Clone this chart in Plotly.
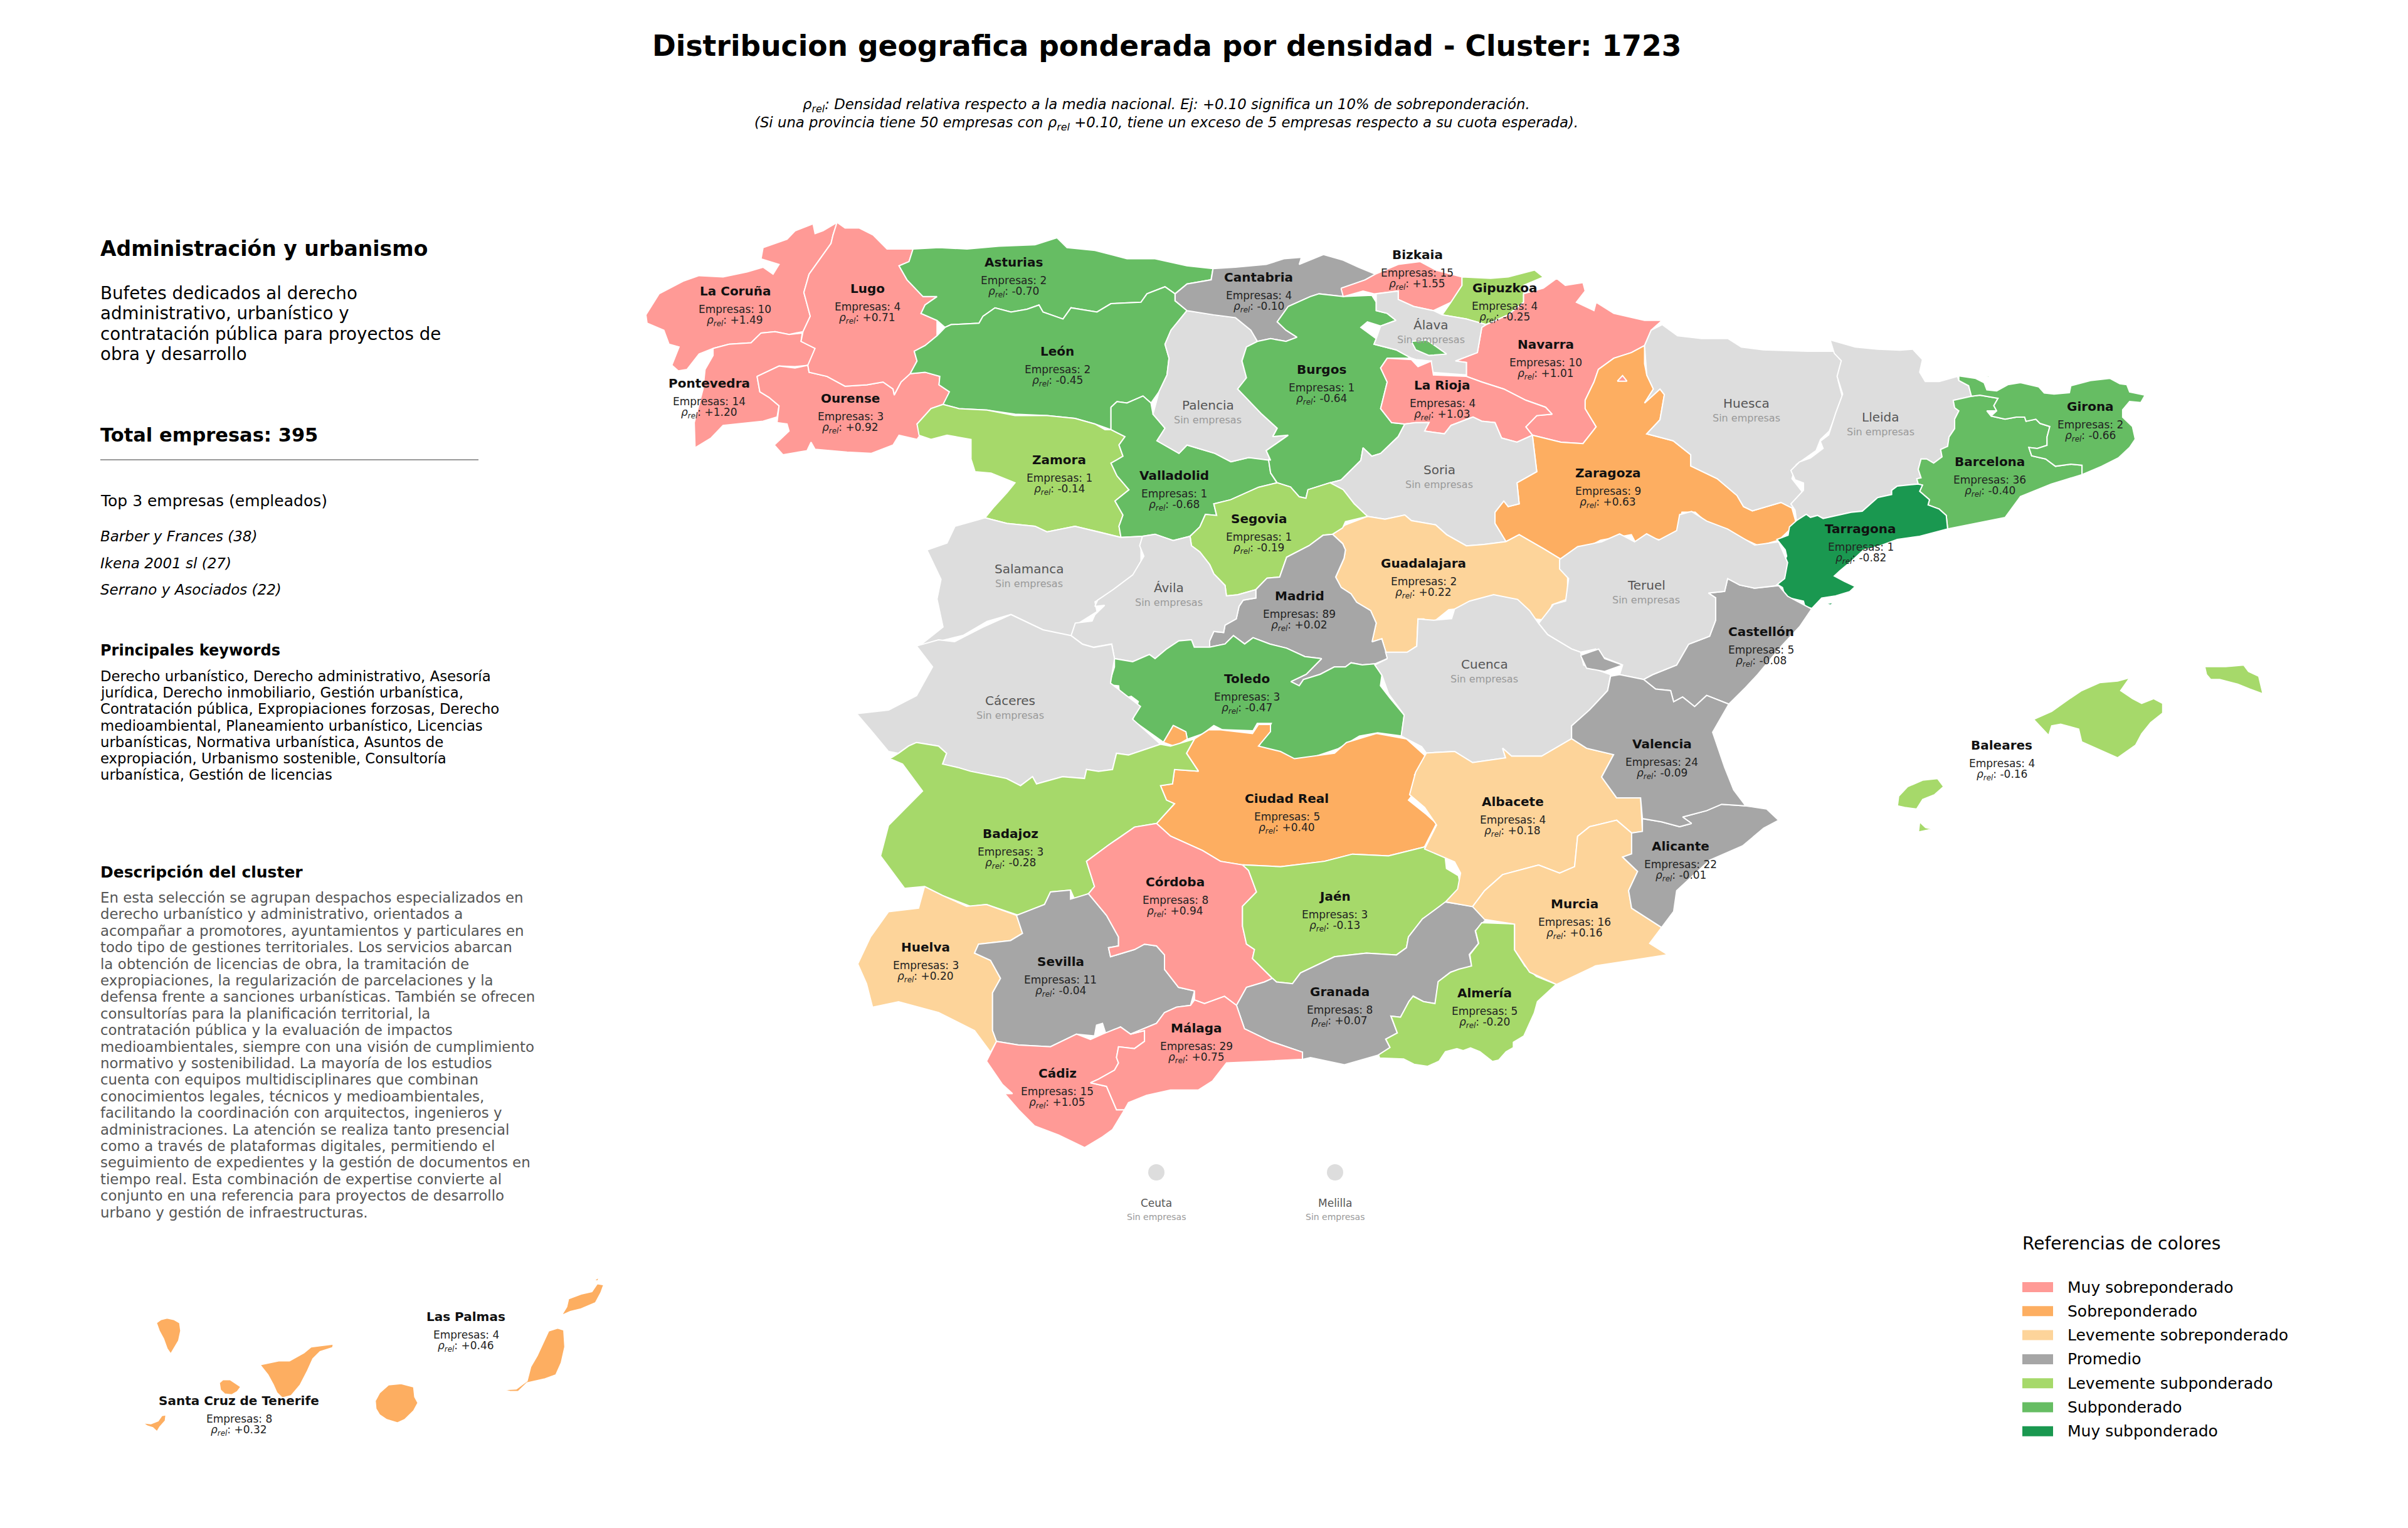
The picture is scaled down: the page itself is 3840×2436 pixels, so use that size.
import plotly.graph_objects as go

# province data
PROVINCES = ["La Coruña", "Lugo", "Pontevedra", "Ourense", "Asturias", "León", "Zamora", "Valladolid",
             "Cantabria", "Bizkaia", "Gipuzkoa", "Navarra", "Burgos", "La Rioja", "Zaragoza", "Segovia",
             "Guadalajara", "Madrid", "Girona", "Barcelona", "Tarragona", "Castellón", "Valencia", "Albacete",
             "Alicante", "Murcia", "Almería", "Baleares", "Toledo", "Ciudad Real", "Badajoz", "Córdoba",
             "Jaén", "Huelva", "Sevilla", "Granada", "Málaga", "Cádiz", "Las Palmas", "Santa Cruz de Tenerife"]
EMPRESAS = [10, 4, 14, 3, 2, 2, 1, 1, 4, 15, 4, 10, 1, 4, 9, 1, 2, 89, 2, 36, 1, 5, 24, 4, 22, 16, 5, 4,
            3, 5, 3, 8, 3, 3, 11, 8, 29, 15, 4, 8]
RHO = [1.49, 0.71, 1.20, 0.92, -0.70, -0.45, -0.14, -0.68, -0.10, 1.55, -0.25, 1.01, -0.64, 1.03, 0.63,
       -0.19, 0.22, 0.02, -0.66, -0.40, -0.82, -0.08, -0.09, 0.18, -0.01, 0.16, -0.20, -0.16, -0.47, 0.40,
       -0.28, 0.94, -0.13, 0.20, -0.04, 0.07, 0.75, 1.05, 0.46, 0.32]
LABEL_X = [1172, 1383, 1131, 1356, 1616, 1686, 1689, 1872, 2007, 2260, 2399, 2465, 2107, 2300, 2564, 2007,
           2270, 2072, 3333, 3173, 2967, 2808, 2650, 2412, 2680, 2511, 2367, 3192, 1988, 2052, 1611, 1874,
           2128, 1476, 1691, 2136, 1908, 1686, 743, 381]
LABEL_Y = [464, 460, 611, 635, 418, 560, 733, 758, 442, 406, 459, 549, 589, 614, 754, 827, 898, 950, 648,
           736, 843, 1007, 1186, 1278, 1349, 1441, 1583, 1188, 1082, 1273, 1329, 1406, 1429, 1510, 1533,
           1581, 1639, 1711, 2099, 2233]

NO_DATA = ["Palencia", "Salamanca", "Ávila", "Álava", "Soria", "Huesca", "Lleida", "Teruel", "Cuenca",
           "Cáceres", "Ceuta", "Melilla"]
NO_DATA_X = [1926, 1641, 1864, 2282, 2295, 2785, 2999, 2625, 2367, 1611, 1844, 2129]
NO_DATA_Y = [646, 907, 937, 518, 749, 643, 665, 933, 1059, 1117, 1918, 1918]

CITY_X = [1844, 2129]
CITY_Y = [1869, 1869]

LEGEND_LABELS = ["Muy sobreponderado", "Sobreponderado", "Levemente sobreponderado", "Promedio",
                 "Levemente subponderado", "Subponderado", "Muy subponderado"]
LEGEND_COLORS = ["#FF9A96", "#FDAE61", "#FDD49A", "#A6A6A6", "#A6D96A", "#66BD63", "#1A9850"]
NO_DATA_COLOR = "#DDDDDD"

KEYWORDS = ["Derecho urbanístico, Derecho administrativo, Asesoría",
            "jurídica, Derecho inmobiliario, Gestión urbanística,",
            "Contratación pública, Expropiaciones forzosas, Derecho",
            "medioambiental, Planeamiento urbanístico, Licencias",
            "urbanísticas, Normativa urbanística, Asuntos de",
            "expropiación, Urbanismo sostenible, Consultoría",
            "urbanística, Gestión de licencias"]
DESCRIPTION = ["En esta selección se agrupan despachos especializados en",
               "derecho urbanístico y administrativo, orientados a",
               "acompañar a promotores, ayuntamientos y particulares en",
               "todo tipo de gestiones territoriales. Los servicios abarcan",
               "la obtención de licencias de obra, la tramitación de",
               "expropiaciones, la regularización de parcelaciones y la",
               "defensa frente a sanciones urbanísticas. También se ofrecen",
               "consultorías para la planificación territorial, la",
               "contratación pública y la evaluación de impactos",
               "medioambientales, siempre con una visión de cumplimiento",
               "normativo y sostenibilidad. La mayoría de los estudios",
               "cuenta con equipos multidisciplinares que combinan",
               "conocimientos legales, técnicos y medioambientales,",
               "facilitando la coordinación con arquitectos, ingenieros y",
               "administraciones. La atención se realiza tanto presencial",
               "como a través de plataformas digitales, permitiendo el",
               "seguimiento de expedientes y la gestión de documentos en",
               "tiempo real. Esta combinación de expertise convierte al",
               "conjunto en una referencia para proyectos de desarrollo",
               "urbano y gestión de infraestructuras."]
SUMMARY = ["Bufetes dedicados al derecho", "administrativo, urbanístico y",
           "contratación pública para proyectos de", "obra y desarrollo"]
TOP_FIRMS = ["Barber y Frances (38)", "Ikena 2001 sl (27)", "Serrano y Asociados (22)"]

# outlines were digitised on separate sheets: origin x, origin y, x scale, y scale
SHEETS = {"nw": (1000, 330, 1.568, 2.24), "ne": (1900, 330, 1.4255, 2.24), "cat": (2780, 540, 2.24, 3.0),
          "mid": (1650, 800, 2.24, 3.0), "s": (1350, 1000, 1.568, 1.742), "e": (2200, 800, 1.045, 1.96),
          "can": (100, 1350, 1.742, 1.568), "alm": (2180, 1540, 3.0, 3.0)}

OUTLINES = {
    "La Coruña": [("nw", [(47,385),(80,310),(140,265),(180,245),(240,250),(300,232),(340,215),(365,240),(380,205),(335,185),(340,145),(400,115),(420,85),(465,60),(470,95),(490,85),(525,55),(515,100),(510,130),(480,190),(455,240),(442,305),(458,390),(440,445),(405,455),(370,445),(335,450),(310,485),(255,490),(215,505),(180,525),(150,580),(128,585),(112,565),(130,500),(105,490),(92,440),(50,415)])],
    "Pontevedra": [("nw", [(215,505),(255,490),(310,485),(335,450),(370,445),(405,455),(438,450),(435,480),(470,505),(455,565),(420,570),(380,568),(325,605),(332,660),(355,680),(380,710),(375,750),(340,765),(240,780),(210,825),(170,860),(168,770),(190,650),(195,580),(215,530)])],
    "Ourense": [("nw", [(325,605),(380,568),(420,575),(452,565),(455,590),(500,605),(545,640),(600,635),(640,625),(665,650),(668,672),(685,625),(708,595),(745,590),(782,605),(780,635),(806,660),(800,700),(760,720),(725,775),(740,800),(725,830),(680,815),(665,850),(610,880),(550,875),(470,865),(460,840),(450,870),(390,885),(368,850),(405,800),(400,775),(375,770),(380,710),(355,680),(332,660)])],
    "Lugo": [("nw", [(525,55),(545,75),(580,75),(615,100),(650,150),(715,150),(705,195),(680,210),(700,260),(740,320),(775,320),(745,350),(735,380),(775,405),(775,460),(745,495),(718,515),(725,550),(708,595),(685,625),(668,670),(665,650),(640,625),(600,635),(545,640),(500,605),(455,590),(452,565),(470,505),(435,480),(440,445),(458,390),(442,305),(455,240),(480,190),(510,130),(515,100)])],
    "Asturias": [("nw", [(715,150),(780,145),(850,150),(930,140),(1020,135),(1075,110),(1100,145),(1170,155),(1250,185),(1320,185),(1400,210),(1465,220),(1460,260),(1400,275),(1370,310),(1345,285),(1300,310),(1285,340),(1210,345),(1175,375),(1110,360),(1090,400),(1040,375),(1030,350),(1000,365),(960,375),(920,360),(890,390),(880,415),(810,420),(795,430),(775,405),(735,380),(745,350),(775,320),(740,320),(700,260),(680,210),(705,195)])],
    "León": [("nw", [(795,430),(810,420),(880,415),(890,390),(920,360),(960,375),(1000,365),(1030,350),(1040,375),(1090,400),(1110,360),(1175,375),(1210,345),(1285,340),(1300,310),(1345,285),(1370,310),(1370,335),(1400,370),(1360,440),(1345,490),(1355,540),(1350,600),(1330,660),(1310,700),(1290,675),(1250,700),(1225,695),(1210,715),(1210,795),(1170,775),(1120,755),(1050,745),(970,740),(900,725),(830,720),(790,705),(806,660),(780,635),(782,605),(745,590),(708,595),(725,550),(718,515),(745,495),(775,460)])],
    "Zamora": [("nw", [(790,705),(830,720),(900,725),(970,745),(1050,745),(1120,755),(1170,775),(1195,795),(1210,795),(1245,820),(1230,850),(1240,890),(1210,915),(1225,960),(1255,1010),(1220,1050),(1240,1100),(1230,1140),(1235,1180),(1180,1160),(1120,1140),(1050,1160),(1020,1140),(950,1130),(895,1110),(915,1075),(950,1020),(970,985),(910,950),(870,945),(860,900),(860,830),(800,815),(760,830),(730,815),(725,775),(760,720)])],
    "Valladolid": [("nw", [(1210,715),(1225,695),(1250,700),(1290,675),(1310,700),(1315,740),(1345,790),(1325,835),(1380,880),(1400,850),(1470,880),(1510,910),(1554,895),(1604,900),(1609,950),(1625,985),(1579,1001),(1509,1046),(1467,1060),(1474,1102),(1446,1098),(1432,1143),(1407,1176),(1365,1191),(1320,1169),(1288,1176),(1235,1180),(1230,1140),(1240,1100),(1220,1050),(1255,1010),(1225,960),(1210,915),(1240,890),(1230,850),(1245,820),(1210,795)])],
    "Palencia": [("nw", [(1400,370),(1466,385),(1521,395),(1560,440),(1576,480),(1549,500),(1537,550),(1549,610),(1527,650),(1587,740),(1626,790),(1614,820),(1653,815),(1598,870),(1609,905),(1554,895),(1510,910),(1470,880),(1400,850),(1380,880),(1325,835),(1345,790),(1315,740),(1330,660),(1350,600),(1355,540),(1345,490),(1360,440)])],
    "Salamanca": [("nw", [(895,1110),(950,1130),(1020,1140),(1050,1160),(1120,1140),(1180,1160),(1235,1180),(1288,1176),(1285,1220),(1285,1290),(1240,1350),(1170,1410),(1175,1445),(1125,1490),(1110,1540),(1040,1510),(960,1455),(900,1480),(840,1530),(730,1568),(790,1500),(775,1400),(785,1330),(750,1225),(800,1200),(820,1140)])],
    "Cantabria": [("ne", [(49,220),(100,215),(170,205),(210,185),(250,180),(245,205),(300,170),(345,190),(380,215),(418,240),(395,260),(345,290),(345,320),(290,310),(270,320),(220,355),(195,410),(215,440),(240,465),(215,480),(180,470),(150,480),(135,440),(100,395),(50,385),(-10,370),(-37,335),(-37,310),(-10,275),(45,260)])],
    "Burgos": [("ne", [(290,310),(345,320),(410,315),(420,340),(420,370),(445,380),(465,405),(430,425),(400,410),(385,430),(420,470),(415,490),(465,510),(500,540),(445,540),(430,575),(445,625),(430,720),(455,770),(485,775),(470,820),(430,880),(410,890),(390,860),(385,905),(340,975),(315,985),(265,1010),(260,1040),(245,1035),(225,1000),(195,985),(180,950),(175,900),(180,905),(170,870),(220,815),(185,820),(195,790),(160,740),(105,650),(125,610),(115,550),(125,500),(150,480),(180,470),(215,480),(240,465),(215,440),(195,410),(220,355),(270,320)])],
    "Bizkaia": [("ne", [(340,290),(395,260),(418,240),(470,205),(520,195),(555,225),(615,250),(615,280),(590,340),(550,370),(505,355),(470,330),(470,300),(415,310),(390,300),(345,320)])],
    "Gipuzkoa": [("ne", [(615,250),(680,255),(720,250),(780,225),(800,250),(755,280),(755,340),(720,385),(670,420),(625,400),(570,385),(590,340),(615,280)])],
    "Navarra": [("ne", [(755,310),(800,290),(830,255),(850,280),(890,270),(895,300),(875,340),(915,370),(920,340),(960,380),(1030,405),(1070,405),(1045,440),(1030,495),(1000,520),(960,540),(925,580),(915,625),(895,690),(895,720),(920,785),(890,845),(840,840),(775,815),(760,785),(785,745),(820,740),(805,715),(760,690),(710,650),(660,625),(625,605),(625,555),(600,550),(650,520),(660,430),(670,420),(720,385),(755,340)])],
    "Álava": [("ne", [(420,310),(470,300),(470,330),(505,355),(550,370),(570,385),(625,400),(670,420),(660,430),(650,520),(600,550),(625,555),(625,600),(545,590),(545,550),(510,545),(500,540),(465,510),(415,490),(420,470),(430,425),(465,405),(445,380),(420,370)])],
    "La Rioja": [("ne", [(445,540),(500,545),(515,570),(545,550),(550,600),(625,605),(660,625),(710,650),(760,690),(805,715),(820,740),(785,745),(760,785),(775,815),(740,840),(705,825),(690,770),(660,765),(640,750),(590,780),(575,810),(530,800),(540,770),(510,770),(485,775),(455,770),(430,720),(445,625),(430,575)])],
    "Zaragoza": [("ne", [(1030,495),(1030,560),(1035,600),(1050,650),(1030,700),(1065,650),(1075,670),(1065,760),(1035,810),(1095,835),(1135,885),(1135,925),(1195,970),(1240,1030),(1255,1070),(1275,1085),(1340,1055),(1365,1075),(1375,1130),(1335,1190),(1290,1210),(1240,1175),(1170,1125),(1145,1090),(1115,1090),(1105,1160),(1070,1190),(1040,1180),(1010,1200),(1000,1170),(930,1190),(880,1230),(840,1258),(800,1220),(745,1170),(715,1195),(690,1130),(690,1090),(710,1050),(720,1070),(745,1060),(740,985),(785,945),(775,815),(840,840),(890,845),(920,785),(895,720),(895,690),(915,625),(925,580),(960,540),(1000,520)])],
    "Huesca": [("ne", [(1070,420),(1105,460),(1160,470),(1220,470),(1250,500),(1300,510),(1400,515),(1460,515),(1480,550),(1470,620),(1480,680),(1450,800),(1430,830),(1420,870),(1375,920),(1365,970),(1395,1030),(1365,1075),(1340,1055),(1275,1085),(1255,1070),(1240,1030),(1195,970),(1135,925),(1135,885),(1095,835),(1035,810),(1065,760),(1075,670),(1065,650),(1030,700),(1050,650),(1035,600),(1030,495),(1045,440)])],
    "Soria": [("ne", [(340,975),(385,905),(390,860),(410,890),(430,880),(470,820),(485,775),(510,770),(540,770),(530,800),(575,810),(590,780),(640,750),(660,765),(690,770),(705,825),(740,840),(775,815),(785,945),(740,985),(745,1060),(720,1070),(710,1050),(690,1090),(690,1130),(715,1195),(665,1205),(625,1210),(580,1170),(555,1135),(500,1120),(485,1100),(440,1115),(400,1105),(370,1060),(345,1010),(315,985)])],
    "Guadalajara": [("ne", [(321,1169),(350,1135),(400,1105),(440,1115),(485,1100),(500,1120),(555,1135),(580,1170),(625,1210),(665,1205),(715,1195),(745,1170),(800,1220),(840,1258),(855,1320),(855,1400),(820,1420),(805,1475),(770,1470),(720,1440),(690,1410),(641,1411),(611,1434),(585,1438),(547,1486),(528,1471),(515,1471),(512,1568),(490,1591),(442,1591),(433,1542),(410,1553),(420,1486),(407,1441),(375,1412),(363,1382),(340,1359),(328,1322),(347,1255),(350,1225),(344,1202)])],
    "Lleida": [("cat", [(310,5),(400,40),(480,50),(560,55),(605,50),(640,100),(630,160),(650,205),(700,205),(765,180),(770,200),(805,225),(815,275),(750,295),(755,330),(770,345),(755,385),(755,430),(735,470),(730,515),(705,530),(710,565),(680,595),(655,575),(635,575),(625,625),(635,665),(620,670),(625,695),(550,705),(530,725),(530,745),(480,760),(450,795),(425,825),(385,830),(285,860),(265,845),(240,855),(225,840),(190,870),(185,820),(170,790),(215,725),(215,690),(185,675),(170,630),(200,590),(240,570),(285,525),(275,490),(305,460),(330,355),(355,265),(335,180),(350,105),(325,70)])],
    "Barcelona": [("cat", [(750,295),(815,275),(845,270),(910,285),(895,320),(905,345),(870,345),(885,370),(935,385),(975,375),(1005,375),(1010,395),(1045,385),(1060,405),(1095,420),(1085,470),(1085,510),(1050,525),(1020,520),(1030,560),(1080,575),(1115,610),(1170,600),(1210,605),(1210,650),(1100,695),(990,755),(935,855),(730,910),(725,845),(700,815),(660,795),(665,770),(630,730),(640,700),(625,695),(620,670),(635,665),(625,625),(635,575),(655,575),(680,595),(710,565),(705,530),(730,515),(735,470),(755,430),(755,385),(770,345),(755,330)])],
    "Girona": [("cat", [(770,178),(830,190),(860,210),(870,245),(905,250),(945,220),(990,210),(1055,230),(1075,260),(1110,265),(1165,258),(1170,225),(1240,200),(1310,190),(1345,215),(1370,220),(1380,255),(1435,270),(1420,305),(1380,300),(1355,340),(1355,375),(1390,420),(1400,480),(1380,520),(1340,570),(1280,610),(1210,650),(1210,605),(1170,600),(1115,610),(1080,575),(1030,560),(1020,520),(1050,525),(1085,510),(1085,470),(1095,420),(1060,405),(1045,385),(1010,395),(1005,375),(975,375),(935,385),(885,370),(905,345),(895,320),(910,285),(845,270),(815,275),(805,225),(770,200)]),
               ("cat", [(870,178),(878,178),(876,192)])],
    "Tarragona": [("cat", [(190,870),(225,840),(240,855),(265,845),(285,860),(385,830),(425,825),(450,795),(480,760),(530,745),(530,725),(550,705),(625,695),(640,700),(630,730),(665,770),(660,795),(700,815),(725,845),(730,910),(630,945),(550,960),(490,990),(430,1010),(390,1060),(345,1110),(325,1135),(360,1160),(400,1185),(380,1210),(330,1230),(280,1240),(245,1290),(220,1280),(215,1255),(150,1235),(140,1190),(110,1165),(135,1160),(150,1130),(135,1095),(155,1040),(150,1010),(120,960),(160,940),(165,900)]),
                  ("cat", [(292,1268),(325,1260),(312,1274)])],
    "Segovia": [("mid", [(866,-91),(914,-71),(945,-24),(969,-17),(976,-58),(1055,-91),(1102,-58),(1141,9),(1189,70),(1110,95),(1100,125),(1064,155),(1030,160),(980,210),(900,265),(875,360),(830,365),(790,420),(725,445),(685,450),(680,400),(640,345),(625,300),(590,240),(560,210),(555,165),(590,120),(610,60),(650,65),(640,10),(700,-10),(800,-70)])],
    "Madrid": [("mid", [(1064,155),(1100,200),(1110,230),(1105,270),(1075,360),(1095,410),(1130,440),(1150,480),(1200,520),(1220,580),(1205,670),(1240,655),(1255,720),(1260,750),(1215,775),(1170,780),(1130,770),(1110,790),(1070,790),(1020,825),(960,850),(945,880),(915,860),(970,825),(1025,750),(965,740),(900,700),(840,680),(800,660),(780,650),(750,680),(710,640),(680,680),(625,695),(625,665),(640,620),(675,625),(680,590),(720,560),(730,500),(745,470),(790,460),(790,420),(830,365),(875,360),(900,265),(980,210),(1030,160)])],
    "Ávila": [("mid", [(385,165),(430,155),(495,185),(555,165),(560,210),(590,240),(625,300),(640,345),(680,400),(685,450),(725,445),(790,420),(790,460),(745,470),(730,500),(720,560),(680,590),(675,625),(640,620),(625,665),(625,695),(570,695),(560,660),(515,665),(470,705),(430,750),(410,730),(350,765),(285,750),(275,680),(210,695),(170,680),(130,640),(145,580),(205,570),(215,540),(250,495),(215,500),(225,470),(280,420),(350,350),(390,260),(375,210)])],
    "Toledo": [("mid", [(285,750),(350,765),(410,730),(430,750),(470,705),(515,665),(560,660),(570,695),(625,695),(680,680),(710,640),(750,680),(780,650),(800,660),(840,680),(900,700),(965,740),(1025,750),(970,825),(915,860),(945,880),(960,850),(1020,825),(1070,790),(1110,790),(1130,770),(1170,780),(1215,775),(1240,830),(1235,880),(1270,940),(1320,1020),(1310,1120),(1225,1105),(1160,1120),(1085,1180),(985,1225),(925,1235),(880,1210),(800,1170),(835,1090),(845,1060),(795,1060),(780,1095),(670,1090),(640,1070),(600,1110),(545,1135),(540,1100),(495,1070),(460,1150),(350,1045),(370,955),(345,930),(305,945),(300,880),(265,875),(285,790)])],
    "Cáceres": [("s", [(175,52),(230,35),(270,40),(340,0),(411,-35),(491,7),(561,23),(590,47),(618,56),(663,47),(670,87),(660,155),(700,190),(735,220),(715,255),(785,325),(705,355),(675,350),(665,395),(630,400),(600,395),(595,420),(540,415),(475,435),(465,415),(435,440),(400,420),(310,400),(280,390),(240,380),(250,350),(230,330),(175,320),(155,330),(130,350),(105,345),(60,285),(25,240),(105,230),(175,190),(205,130),(215,110)])],
    "Ciudad Real": [("s", [(870,310),(905,285),(935,285),(1015,295),(1030,270),(1060,270),(1060,290),(1030,330),(1085,345),(1120,365),(1220,350),(1250,320),(1325,295),(1400,310),(1445,355),(1450,370),(1420,410),(1430,445),(1405,480),(1450,520),(1475,545),(1445,610),(1355,635),(1265,630),(1195,650),(1085,665),(990,660),(935,650),(890,620),(810,580),(775,545),(820,490),(800,480),(785,440),(815,435),(820,395),(880,400),(850,350)]),
                    ("mid", [(495,1070),(540,1100),(545,1135),(500,1170),(460,1150)])],
    "Badajoz": [("s", [(108,365),(130,350),(155,330),(175,320),(230,330),(250,350),(240,380),(280,390),(310,400),(400,420),(435,440),(465,415),(475,435),(540,415),(595,420),(600,395),(630,400),(665,395),(675,350),(705,355),(785,325),(810,330),(870,310),(850,350),(880,400),(820,395),(815,435),(785,440),(800,480),(820,490),(775,545),(720,555),(655,605),(600,650),(620,720),(605,740),(570,755),(560,730),(510,735),(495,770),(430,800),(350,770),(310,775),(240,745),(195,720),(145,725),(85,635),(105,550),(190,455),(140,380)])],
    "Huelva": [("s", [(195,720),(240,745),(300,775),(350,770),(425,800),(440,850),(410,870),(330,880),(320,905),(360,925),(385,975),(365,1015),(365,1120),(375,1150),(360,1180),(320,1120),(230,1070),(130,1040),(65,1055),(50,990),(28,935),(60,860),(105,790),(180,780)])],
    "Sevilla": [("s", [(425,800),(495,770),(510,735),(560,730),(560,755),(605,740),(650,800),(680,860),(680,885),(655,890),(660,915),(720,895),(745,880),(775,885),(795,910),(795,950),(830,1000),(870,1010),(860,1050),(825,1055),(795,1070),(775,1100),(710,1130),(685,1110),(650,1135),(640,1100),(625,1105),(620,1135),(575,1130),(510,1165),(430,1160),(375,1150),(365,1120),(365,1015),(385,975),(360,925),(320,905),(330,880),(410,870),(440,850)])],
    "Córdoba": [("s", [(775,545),(810,580),(890,620),(935,650),(990,660),(1005,675),(1025,735),(990,775),(990,830),(1000,880),(1020,895),(1015,920),(1065,975),(1045,985),(1000,1000),(975,1050),(945,1025),(895,1045),(870,1035),(870,1010),(830,1000),(795,950),(795,910),(775,885),(745,880),(720,895),(660,915),(655,890),(680,885),(680,860),(650,800),(605,740),(620,720),(600,650),(655,605),(720,555)])],
    "Jaén": [("s", [(990,660),(1085,665),(1195,650),(1265,630),(1355,635),(1445,610),(1495,620),(1500,670),(1530,690),(1535,720),(1505,765),(1440,810),(1405,860),(1400,890),(1375,910),(1300,905),(1220,915),(1135,960),(1115,990),(1075,985),(1065,975),(1015,920),(1020,895),(1000,880),(990,830),(990,775),(1025,735),(1005,675)])],
    "Granada": [("s", [(1065,975),(1075,985),(1115,990),(1135,960),(1220,915),(1300,905),(1375,910),(1400,890),(1405,860),(1440,810),(1497,763),(1572,776),(1599,811),(1572,843),(1580,878),(1557,909),(1563,941),(1510,958),(1480,984),(1472,1045),(1443,1040),(1417,1024),(1407,1040),(1385,1083),(1361,1080),(1377,1127),(1348,1144),(1359,1167),(1330,1188),(1245,1215),(1160,1195),(1140,1200),(1140,1180),(1060,1150),(995,1115),(975,1050),(1000,1000),(1045,985)])],
    "Almería": [("alm", [(492,-54),(534,-108),(519,-168),(549,-207),(705,-201),(705,-78),(755,0),(810,50),(905,88),(815,170),(800,225),(750,335),(700,365),(700,390),(665,410),(630,450),(600,457),(540,410),(495,392),(460,405),(430,395),(375,410),(345,455),(290,480),(225,470),(175,445),(60,440),(55,425),(110,390),(90,350),(145,320),(115,240),(160,245),(200,170),(220,145),(270,170),(325,180),(340,75),(400,30),(440,15),(500,0)])],
    "Cádiz": [("s", [(375,1150),(430,1160),(510,1165),(575,1130),(610,1145),(640,1130),(685,1110),(710,1130),(745,1120),(745,1150),(720,1170),(680,1165),(675,1195),(680,1210),(670,1230),(630,1255),(610,1265),(650,1275),(675,1340),(695,1340),(665,1395),(640,1415),(595,1445),(530,1410),(470,1385),(430,1340),(395,1295),(415,1295),(390,1270),(350,1205)])],
    "Málaga": [("s", [(870,1035),(895,1045),(945,1025),(975,1050),(995,1115),(1060,1150),(1140,1180),(1140,1200),(1050,1205),(950,1210),(915,1260),(880,1285),(810,1285),(750,1300),(705,1320),(695,1340),(675,1340),(650,1275),(610,1265),(630,1255),(670,1230),(680,1210),(675,1195),(680,1165),(720,1170),(745,1150),(745,1120),(710,1130),(775,1100),(795,1070),(825,1055),(860,1050)])],
    "Castellón": [("e", [(580,240),(600,260),(625,270),(665,262),(680,295),(720,335),(700,390),(670,450),(630,540),(610,580),(582,632),(545,605),(525,640),(505,610),(490,625),(485,590),(460,585),(440,555),(455,540),(495,510),(515,445),(550,420),(560,370),(560,300),(548,285),(575,280)])],
    "Teruel": [("e", [(300,180),(330,140),(370,125),(400,100),(425,125),(445,100),(465,120),(495,90),(500,40),(520,30),(545,60),(580,85),(625,135),(665,125),(680,190),(675,240),(660,262),(625,270),(600,260),(580,240),(575,280),(548,285),(560,300),(560,370),(550,420),(515,445),(495,510),(455,540),(440,555),(400,540),(405,510),(365,480),(360,460),(335,470),(320,460),(280,415),(265,380),(290,320),(310,310),(315,240),(300,210)])],
    "Cuenca": [("e", [(13,490),(10,470),(46,470),(62,451),(64,366),(90,370),(120,365),(125,335),(150,310),(190,290),(230,305),(250,340),(265,380),(280,415),(320,460),(335,470),(340,510),(385,540),(380,590),(350,650),(320,700),(320,740),(270,795),(220,795),(205,770),(210,800),(155,815),(125,780),(78,785),(70,765),(36,732),(41,666),(15,600),(4,542),(-8,510)])],
    "Albacete": [("e", [(78,785),(125,780),(155,815),(210,800),(205,770),(220,795),(270,795),(320,740),(345,770),(390,790),(370,860),(395,925),(435,925),(438,1030),(420,1035),(395,995),(350,1015),(330,1045),(325,1140),(300,1160),(265,1135),(205,1165),(175,1215),(155,1265),(110,1250),(130,1210),(135,1160),(125,1125),(75,1085),(95,1010),(75,955),(50,915),(60,845)])],
    "Murcia": [("e", [(155,1265),(175,1215),(205,1165),(265,1135),(300,1160),(325,1140),(330,1045),(350,1015),(395,995),(420,1035),(420,1100),(405,1110),(430,1155),(415,1215),(420,1270),(470,1330),(450,1380),(480,1415),(430,1430),(360,1450),(295,1508),(250,1470),(225,1400),(225,1320),(175,1305)])],
    "Alicante": [("e", [(438,990),(470,1000),(500,1015),(520,1005),(505,985),(545,965),(570,945),(610,950),(645,960),(665,995),(640,1020),(605,1075),(550,1120),(495,1215),(490,1280),(470,1330),(420,1270),(415,1215),(430,1155),(405,1110),(420,1100),(420,1035),(438,1030)])],
    "Valencia": [("e", [(385,545),(400,540),(440,555),(460,585),(485,590),(490,625),(505,610),(525,640),(545,605),(582,632),(555,720),(575,830),(590,900),(610,950),(570,945),(545,965),(505,985),(520,1005),(500,1015),(470,1000),(438,990),(435,925),(395,925),(370,860),(390,790),(345,770),(320,740),(320,700),(350,650),(380,590)]),
                 ("e", [(335,480),(365,460),(375,490),(405,510),(375,530),(345,520)])],
    "Baleares": [("e", [(1090,680),(1120,655),(1150,615),(1170,590),(1200,565),(1230,560),(1250,550),(1235,590),(1255,615),(1270,630),(1290,615),(1305,630),(1305,660),(1285,690),(1270,725),(1260,760),(1230,800),(1195,770),(1170,750),(1165,710),(1135,695),(1120,700),(1115,730),(1100,700)]),
                 ("e", [(1375,515),(1410,515),(1440,510),(1448,530),(1465,545),(1472,600),(1450,585),(1430,570),(1400,555),(1385,555),(1378,540)]),
                 ("e", [(880,890),(905,870),(930,865),(940,890),(925,915),(905,930),(895,960),(875,955),(863,950),(865,920)]),
                 ("e", [(900,1000),(910,1018),(932,1027),(915,1025),(898,1032)])],
    "Santa Cruz de Tenerife": [("can", [(260,1190),(272,1182),(290,1178),(310,1182),(325,1190),(328,1210),(322,1235),(312,1250),(300,1268),(290,1255),(280,1230),(268,1210)]),
                               ("can", [(548,1295),(575,1290),(600,1285),(630,1285),(650,1275),(670,1265),(690,1250),(720,1247),(752,1243),(750,1252),(715,1262),(695,1280),(680,1310),(660,1345),(635,1372),(610,1378),(595,1365),(585,1345),(570,1320)]),
                               ("can", [(435,1340),(445,1332),(465,1332),(495,1350),(485,1362),(470,1370),(450,1368),(438,1358)]),
                               ("can", [(222,1440),(245,1442),(265,1435),(275,1422),(287,1420),(285,1435),(270,1450),(262,1462),(250,1452),(235,1448)])],
    "Las Palmas": [("can", [(868,1385),(880,1365),(905,1345),(940,1342),(975,1350),(978,1375),(987,1390),(975,1410),(950,1432),(930,1440),(900,1432),(880,1420),(870,1405)]),
                   ("can", [(1222,1357),(1260,1355),(1290,1335),(1300,1300),(1318,1272),(1335,1240),(1350,1210),(1375,1203),(1392,1208),(1395,1250),(1385,1290),(1370,1320),(1340,1330),(1290,1340),(1265,1362),(1245,1362)]),
                   ("can", [(1385,1172),(1400,1150),(1405,1130),(1440,1118),(1470,1112),(1485,1092),(1503,1095),(1495,1115),(1480,1140),(1440,1155),(1410,1162)]),
                   ("can", [(1475,1085),(1490,1075),(1487,1085)])],
}
# small enclaves drawn on top of their neighbours
ENCLAVES = {"Burgos": [("ne", [(500,480),(535,475),(580,525),(540,530),(510,510)])],
            "Navarra": [("ne", [(968,622),(990,622),(980,602)])]}

FONT = "DejaVu Sans"


def class_color(rho):
    if rho is None:
        return NO_DATA_COLOR
    if rho >= 0.7:
        return LEGEND_COLORS[0]
    if rho >= 0.3:
        return LEGEND_COLORS[1]
    if rho >= 0.1:
        return LEGEND_COLORS[2]
    if rho >= -0.1:
        return LEGEND_COLORS[3]
    if rho >= -0.3:
        return LEGEND_COLORS[4]
    if rho >= -0.75:
        return LEGEND_COLORS[5]
    return LEGEND_COLORS[6]


def add_outline(fig, sheet, pts, color):
    x0, y0, sx, sy = SHEETS[sheet]
    fig.add_trace(go.Scatter(
        x=[x0 + p[0] / sx for p in pts] + [x0 + pts[0][0] / sx],
        y=[y0 + p[1] / sy for p in pts] + [y0 + pts[0][1] / sy],
        mode="lines", fill="toself", fillcolor=color,
        line=dict(color="white", width=2),
        hoverinfo="skip", showlegend=False))


def add_text(fig, x, y, text, size, color="#000000", anchor="left", weight="normal", style="normal"):
    fig.add_annotation(x=x, y=y, text=text, showarrow=False, xanchor=anchor, yanchor="middle",
                       align=anchor, font=dict(family=FONT, size=size, color=color, weight=weight, style=style))


rho_by_name = dict(zip(PROVINCES, RHO))

fig = go.Figure()

for name, parts in OUTLINES.items():
    for sheet, pts in parts:
        add_outline(fig, sheet, pts, class_color(rho_by_name.get(name)))
for name, parts in ENCLAVES.items():
    for sheet, pts in parts:
        add_outline(fig, sheet, pts, class_color(rho_by_name.get(name)))

# Ceuta and Melilla are only dots
fig.add_trace(go.Scatter(x=CITY_X, y=CITY_Y, mode="markers", hoverinfo="skip", showlegend=False,
                         marker=dict(size=26, color=NO_DATA_COLOR, line=dict(width=0))))

# province labels
for name, n, rho, x, y in zip(PROVINCES, EMPRESAS, RHO, LABEL_X, LABEL_Y):
    add_text(fig, x, y, name, 20, "#111111", "center", weight="bold")
    add_text(fig, x, y + 29, "Empresas: %d" % n, 17, "#222222", "center")
    add_text(fig, x, y + 47, "<i>ρ<sub>rel</sub></i>: %+.2f" % rho, 17, "#222222", "center")
for name, x, y in zip(NO_DATA, NO_DATA_X, NO_DATA_Y):
    small = name in ("Ceuta", "Melilla")
    add_text(fig, x, y, name, 17 if small else 20, "#555555", "center")
    add_text(fig, x, y + (22 if small else 23), "Sin empresas", 14 if small else 16, "#999999", "center")

# heading
add_text(fig, 1860, 73, "Distribucion geografica ponderada por densidad - Cluster: 1723", 45.6, anchor="center", weight="bold")
add_text(fig, 1860, 168, "ρ<sub>rel</sub>: Densidad relativa respecto a la media nacional. Ej: +0.10 significa un 10% de sobreponderación.", 22.8, anchor="center", style="italic")
add_text(fig, 1860, 197, "(Si una provincia tiene 50 empresas con ρ<sub>rel</sub> +0.10, tiene un exceso de 5 empresas respecto a su cuota esperada).", 22.8, anchor="center", style="italic")

# left panel
add_text(fig, 158, 396, "Administración y urbanismo", 33, weight="bold")
for i, line in enumerate(SUMMARY):
    add_text(fig, 158, 467 + i * 32.5, line, 27.7)
add_text(fig, 158, 693, "Total empresas: 395", 30.5, weight="bold")
fig.add_shape(type="line", x0=160, x1=763, y0=733, y1=733, line=dict(color="#999999", width=2))
add_text(fig, 158, 798, "Top 3 empresas (empleados)", 25)
for i, line in enumerate(TOP_FIRMS):
    add_text(fig, 158, 855 + i * 42.5, line, 23, style="italic")
add_text(fig, 158, 1037, "Principales keywords", 24, weight="bold")
for i, line in enumerate(KEYWORDS):
    add_text(fig, 158, 1078 + i * 26.2, line, 22.8)
add_text(fig, 158, 1390, "Descripción del cluster", 25, weight="bold")
for i, line in enumerate(DESCRIPTION):
    add_text(fig, 158, 1431 + i * 26.4, line, 22.9, "#555555")

# colour key
add_text(fig, 3223, 1982, "Referencias de colores", 28)
for i, (label, color) in enumerate(zip(LEGEND_LABELS, LEGEND_COLORS)):
    y = 2052 + i * 38.3
    fig.add_shape(type="rect", x0=3225, x1=3274, y0=y - 8, y1=y + 8, fillcolor=color, line=dict(width=0))
    add_text(fig, 3295, y, label, 25)

fig.update_xaxes(range=[0, 3840], visible=False, fixedrange=True)
fig.update_yaxes(range=[2436, 0], visible=False, fixedrange=True)
fig.update_layout(width=3840, height=2436, margin=dict(l=0, r=0, t=0, b=0),
                  paper_bgcolor="white", plot_bgcolor="white", showlegend=False,
                  font=dict(family=FONT))

fig.write_html("out.html", config=dict(displayModeBar=False), post_script="document.body.style.margin='0';")
